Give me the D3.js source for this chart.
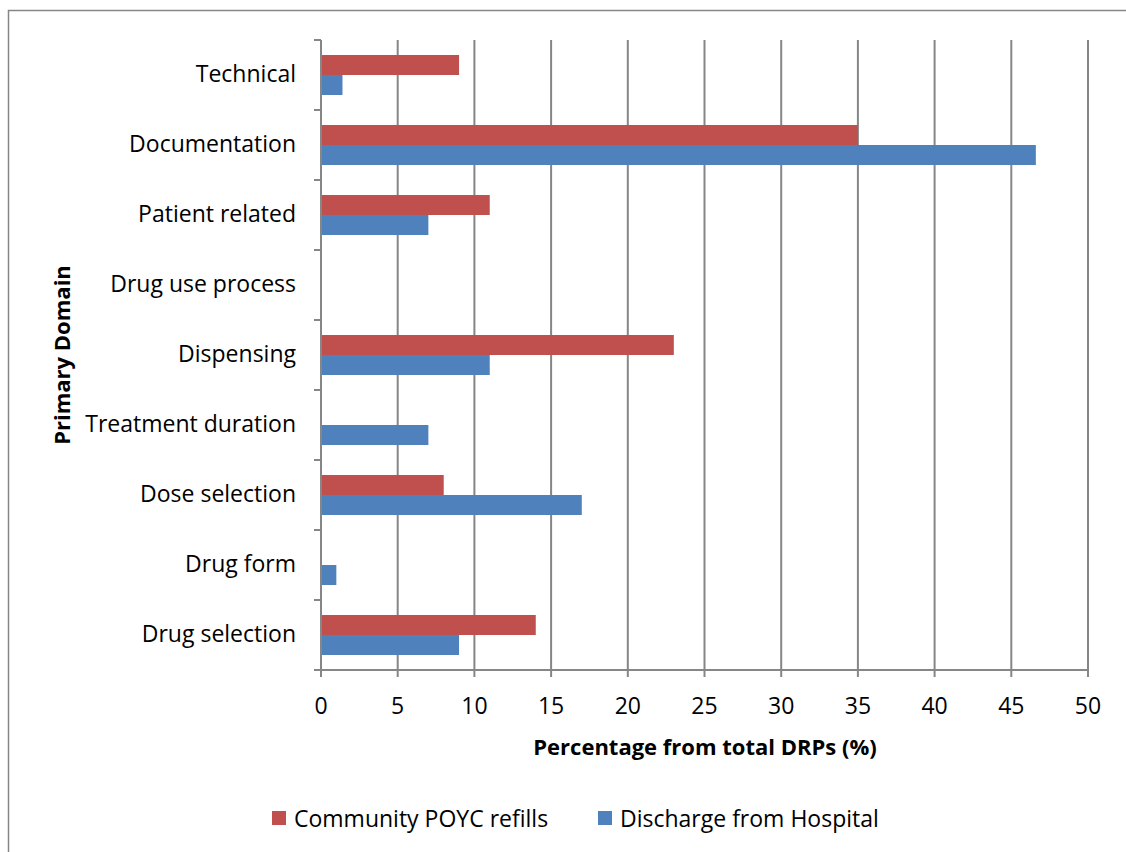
<!DOCTYPE html>
<html>
<head>
<meta charset="utf-8">
<script src="https://cdn.jsdelivr.net/npm/d3@7"></script>
<style>
  body { margin: 0; background: #fff; }
  svg { display: block; font-family: "Open Sans", Lato, sans-serif; }
</style>
</head>
<body>
<svg id="chart" width="1126" height="852"></svg>
<script>
// Primary DRP domains, listed top to bottom
const categories = ["Technical", "Documentation", "Patient related", "Drug use process",
  "Dispensing", "Treatment duration", "Dose selection", "Drug form", "Drug selection"];
const seriesNames = ["Community POYC refills", "Discharge from Hospital"];
const communityValues = [9, 35, 11, 0, 23, 0, 8, 0, 14];
const dischargeValues = [1.4, 46.6, 7, 0, 11, 7, 17, 1, 9];
const xTicks = [0, 5, 10, 15, 20, 25, 30, 35, 40, 45, 50];
const colors = ["#C0504D", "#4F81BD"];

const svg = d3.select("#chart");
const margin = { left: 321, right: 1088, top: 40, bottom: 670 };

// outer chart frame
svg.append("rect").attr("x", 8.5).attr("y", 10.5).attr("width", 1130).attr("height", 860)
  .attr("fill", "none").attr("stroke", "#868686").attr("stroke-width", 1.5);

const x = d3.scaleLinear().domain([0, 50]).range([margin.left, margin.right]);
const y = d3.scaleBand().domain(categories).range([margin.top, margin.bottom]);
const sub = d3.scaleBand().domain(seriesNames).range([15, y.bandwidth() - 15]);

// vertical gridlines
svg.append("g").selectAll("line").data(xTicks.slice(1)).join("line")
  .attr("x1", d => x(d)).attr("x2", d => x(d))
  .attr("y1", margin.top).attr("y2", margin.bottom)
  .attr("stroke", "#868686").attr("stroke-width", 2);

const rows = categories.map((c, i) => ({ cat: c, vals: [communityValues[i], dischargeValues[i]] }));

svg.append("g").selectAll("g").data(rows).join("g")
  .attr("transform", d => `translate(0,${y(d.cat)})`)
  .selectAll("rect").data(d => d.vals.map((v, j) => ({ v, j })).filter(e => e.v > 0)).join("rect")
  .attr("x", x(0)).attr("y", d => sub(seriesNames[d.j]))
  .attr("width", d => x(d.v) - x(0)).attr("height", sub.bandwidth())
  .attr("fill", d => colors[d.j]);

// y axis
const yAxis = svg.append("g");
yAxis.append("line").attr("x1", margin.left).attr("x2", margin.left)
  .attr("y1", margin.top).attr("y2", margin.bottom + 6)
  .attr("stroke", "#868686").attr("stroke-width", 2);
const yTickPos = d3.range(categories.length + 1).map(i => margin.top + i * y.step());
yAxis.selectAll("line.t").data(yTickPos).join("line").attr("class", "t")
  .attr("x1", margin.left - 7).attr("x2", margin.left)
  .attr("y1", d => d).attr("y2", d => d)
  .attr("stroke", "#868686").attr("stroke-width", 2);
yAxis.selectAll("text").data(categories).join("text")
  .attr("x", 296).attr("y", d => y(d) + y.bandwidth() / 2 - 2)
  .attr("text-anchor", "end").attr("dominant-baseline", "central")
  .attr("font-size", 23).attr("fill", "#000").text(d => d);

// x axis
const xAxis = svg.append("g");
xAxis.append("line").attr("x1", margin.left - 7).attr("x2", margin.right)
  .attr("y1", margin.bottom).attr("y2", margin.bottom)
  .attr("stroke", "#868686").attr("stroke-width", 2);
xAxis.selectAll("line.t").data(xTicks).join("line").attr("class", "t")
  .attr("x1", d => x(d)).attr("x2", d => x(d))
  .attr("y1", margin.bottom).attr("y2", margin.bottom + 7)
  .attr("stroke", "#868686").attr("stroke-width", 2);
xAxis.selectAll("text").data(xTicks).join("text")
  .attr("x", d => x(d)).attr("y", 705)
  .attr("text-anchor", "middle").attr("dominant-baseline", "central")
  .attr("font-size", 23).attr("fill", "#000").text(d => d);

// axis titles
svg.append("text").attr("x", 705).attr("y", 746)
  .attr("text-anchor", "middle").attr("dominant-baseline", "central")
  .attr("font-size", 22).attr("font-weight", "bold").text("Percentage from total DRPs (%)");
svg.append("text").attr("transform", "translate(61,355) rotate(-90)")
  .attr("text-anchor", "middle").attr("dominant-baseline", "central")
  .attr("font-size", 22).attr("font-weight", "bold").text("Primary Domain");

// legend
const legendX = [272, 598];
const legend = svg.append("g").selectAll("g").data(seriesNames).join("g")
  .attr("transform", (d, i) => `translate(${legendX[i]},818)`);
legend.append("rect").attr("x", 0).attr("y", -7).attr("width", 14).attr("height", 14)
  .attr("fill", (d, i) => colors[i]);
legend.append("text").attr("x", 22).attr("y", 0).attr("dominant-baseline", "central")
  .attr("font-size", 23).text(d => d);
</script>
</body>
</html>
